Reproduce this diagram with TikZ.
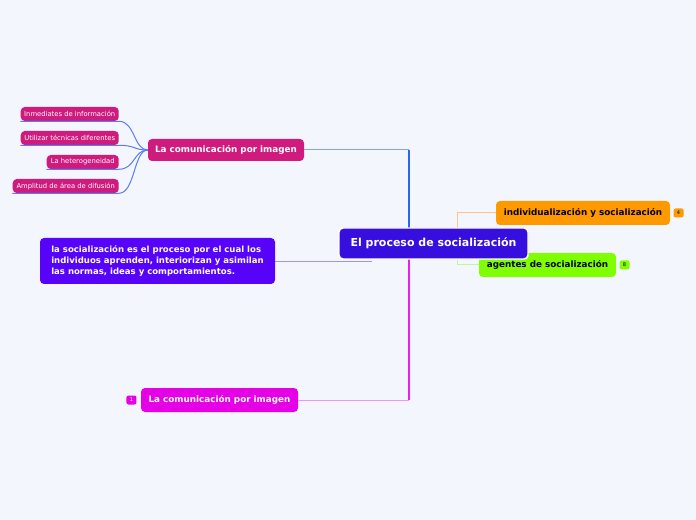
\documentclass[tikz,border=0pt]{standalone}
\usepackage{fontspec}
\setmainfont{DejaVu Sans}
\usetikzlibrary{positioning}

\definecolor{canvas}{RGB}{244,246,254}
\definecolor{rootfill}{RGB}{54,14,222}
\definecolor{pinkfill}{RGB}{207,27,125}
\definecolor{violetfill}{RGB}{87,3,250}
\definecolor{magfill}{RGB}{230,0,230}
\definecolor{orangefill}{RGB}{255,153,0}
\definecolor{limefill}{RGB}{128,255,0}
\definecolor{bluelink}{RGB}{40,100,245}
\definecolor{paleblue}{RGB}{130,165,240}
\definecolor{childlink}{RGB}{90,125,240}
\definecolor{violetlink}{RGB}{165,145,240}
\definecolor{maglink}{RGB}{235,30,235}
\definecolor{palemag}{RGB}{240,150,240}
\definecolor{orangelink}{RGB}{255,195,130}
\definecolor{limelink}{RGB}{190,250,140}

\begin{document}
\begin{tikzpicture}[
    x=0.75pt, y=-0.75pt,
    box/.style={rectangle, rounded corners=3pt, inner sep=0pt, align=center},
    root/.style={box, fill=rootfill, draw=white, line width=1.1pt, text=white,
        minimum width=141.75pt, minimum height=23.25pt, font=\bfseries\fontsize{8.25}{10}\selectfont},
    main/.style={box, text=white, minimum height=18pt, font=\bfseries\fontsize{6.6}{8}\selectfont},
    sub/.style={box, fill=pinkfill, text=white, minimum height=10.5pt, anchor=east,
        font=\fontsize{5.1}{6}\selectfont},
    badge/.style={box, rounded corners=1.5pt, minimum width=7.5pt, minimum height=6.75pt,
        font=\fontsize{3.8}{4}\selectfont},
    link/.style={line width=0.75pt},
    trunk/.style={line width=1.5pt}
]
\useasboundingbox[fill=canvas] (0,0) rectangle (696,520);

% hubs under the root
\coordinate (hub) at (408.5,243.5);
\coordinate (rhub) at (457,243.5);
\coordinate (defend) at (372,262);

% left branches
\node[main, fill=pinkfill, minimum width=117pt, minimum height=16.5pt] (imagen) at (226,150) {La comunicación por imagen};
\node[sub, minimum width=73.5pt] (inmediates) at (119,114) {Inmediates de información};
\node[sub, minimum width=73.5pt] (tecnicas) at (119,138) {Utilizar técnicas diferentes};
\node[sub, minimum width=54pt] (hetero) at (119,162) {La heterogeneidad};
\node[sub, minimum width=79.5pt] (amplitud) at (119,186) {Amplitud de área de difusión};

\node[main, fill=violetfill, minimum width=176.25pt, minimum height=34.5pt, align=left,
    font=\bfseries\fontsize{6.4}{7.9}\selectfont] (definicion) at (157.5,261)
    {la socialización es el proceso por el cual los\\individuos aprenden, interiorizan y asimilan\\las normas, ideas y comportamientos.};

\node[main, fill=magfill, minimum width=117.75pt] (imagenb) at (219.5,400) {La comunicación por imagen};
\node[badge, fill=magfill, text=white, left=3pt of imagenb] (nuno) {1};

% right branches
\node[main, fill=orangefill, text=black, minimum width=130.5pt] (indiv) at (583,213) {individualización y socialización};
\node[badge, fill=orangefill, text=black, right=2.25pt of indiv] (ncuatro) {4};
\node[main, fill=limefill, text=black, minimum width=102.75pt] (agentes) at (547.5,265) {agentes de socialización};
\node[badge, fill=limefill, text=black, right=2.25pt of agentes] (nocho) {8};

% connectors
\foreach \leaf in {inmediates, tecnicas, hetero, amplitud}
    \draw[link, childlink] (\leaf.south west) -- (\leaf.south east)
        .. controls +(16,0) and +(-14,0) .. (imagen.west);

\draw[link, paleblue] (imagen.east) -- (imagen.east -| hub);
\draw[trunk, bluelink] (imagen.east -| hub) -- (hub);
\draw[link, violetlink] (definicion.east |- defend) -- (defend);
\draw[link, palemag] (imagenb.east) -- (imagenb.east -| hub);
\draw[trunk, maglink] (imagenb.east -| hub) -- (hub);
\draw[link, orangelink] (rhub) |- (indiv.west);
\draw[link, limelink] (rhub) |- (agentes.west);

% root on top
\node[root] (proceso) at (433.5,243.5) {El proceso de socialización};
\end{tikzpicture}
\end{document}
